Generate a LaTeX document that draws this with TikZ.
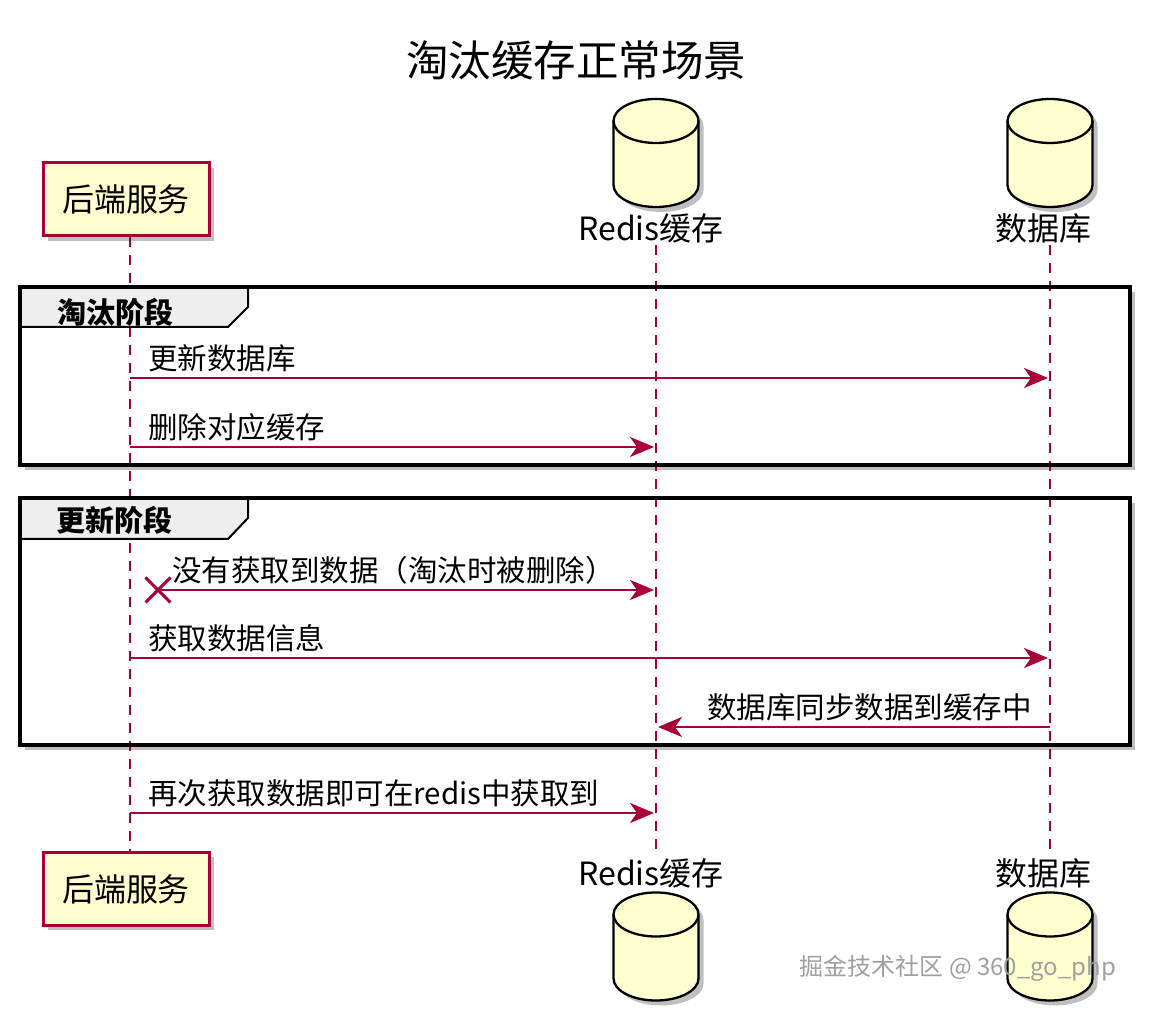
\documentclass[tikz,border=0pt]{standalone}
\usepackage{fontspec}
\setmainfont{Noto Sans CJK SC}
\usetikzlibrary{arrows.meta,shadows,shapes.misc}
\definecolor{partfill}{HTML}{FEFECE}
\definecolor{partline}{HTML}{A80036}
\definecolor{tabfill}{HTML}{EEEEEE}

\begin{document}
\begin{tikzpicture}[x=1pt, y=1pt,
  softshadow/.style={drop shadow={shadow xshift=5pt, shadow yshift=-5pt, fill=black, opacity=0.25}},
  svcbox/.style={rectangle, draw=partline, fill=partfill, line width=3pt, minimum width=166pt, minimum height=73pt, font=\fontsize{32}{38}\selectfont, softshadow},
  lbl/.style={font=\fontsize{32}{38}\selectfont, inner sep=2pt},
  lifeline/.style={draw=partline, line width=1.8pt, dash pattern=on 10pt off 8pt},
  msg/.style={draw=partline, line width=2.3pt, shorten >=2pt, -{Stealth[length=24pt, width=20pt, inset=7pt]}},
  msgtxt/.style={font=\fontsize{29.5}{35}\selectfont, anchor=base west, inner sep=0pt},
  lostx/.style={cross out, draw=partline, line width=3pt, minimum size=22pt, inner sep=0pt},
  grpframe/.style={draw=black, line width=3.5pt},
  grptab/.style={draw=black, fill=tabfill, line width=2pt},
  tabtxt/.style={font=\bfseries\fontsize{29}{34}\selectfont, anchor=west, inner sep=0pt},
  pics/dbcyl/.style={code={
    \path[fill=partfill, draw=black, line width=2.3pt, softshadow] (-42.5,32) -- (-42.5,-32) arc[start angle=180, end angle=360, x radius=42.5, y radius=22] -- (42.5,32) arc[start angle=0, end angle=180, x radius=42.5, y radius=22] -- cycle;
    \draw[line width=2.3pt] (-42.5,32) arc[start angle=180, end angle=360, x radius=42.5, y radius=22];
  }}
]

\useasboundingbox (0,0) rectangle (1152,1010);

\node[font=\fontsize{42.5}{50}\selectfont] (title) at (576,950) {淘汰缓存正常场景};

% participants
\node[svcbox] (svcTop) at (126,810.5) {后端服务};
\pic at (656,857) {dbcyl};
\node[lbl] (rdsTop) at (651,782) {Redis缓存};
\pic at (1050,857) {dbcyl};
\node[lbl] (dbTop) at (1043,782) {数据库};

\node[svcbox] (svcBot) at (126,121) {后端服务};
\node[lbl] (rdsBot) at (651,137) {Redis缓存};
\pic at (656,63.5) {dbcyl};
\node[lbl] (dbBot) at (1043,137) {数据库};
\pic at (1050,63.5) {dbcyl};

\coordinate (svc) at (130,0);
\coordinate (rds) at (656,0);
\coordinate (db) at (1050,0);

% group backgrounds
\path[fill=white, softshadow] (20,723) rectangle (1130,545);
\path[fill=white, softshadow] (20,512) rectangle (1130,265);

% lifelines
\draw[lifeline] (svc |- svcTop.south) -- (svc |- svcBot.north);
\draw[lifeline] (rds |- rdsTop.south) -- (rds |- rdsBot.north);
\draw[lifeline] (db |- dbTop.south) -- (db |- dbBot.north);

% groups
\draw[grptab] (20,723) -- (248,723) -- (248,703) -- (228,683) -- (20,683) -- cycle;
\node[tabtxt] (g1) at (57,698) {淘汰阶段};
\draw[grpframe] (20,723) rectangle (1130,545);

\draw[grptab] (20,512) -- (248,512) -- (248,492) -- (228,471) -- (20,471) -- cycle;
\node[tabtxt] (g2) at (56,490) {更新阶段};
\draw[grpframe] (20,512) rectangle (1130,265);

% messages
\coordinate (m1) at (0,632);
\draw[msg] (svc |- m1) -- (db |- m1);
\node[msgtxt] (m1t) at ([shift={(18,8)}]svc |- m1) {更新数据库};

\coordinate (m2) at (0,563);
\draw[msg] (svc |- m2) -- (rds |- m2);
\node[msgtxt] (m2t) at ([shift={(18,8)}]svc |- m2) {删除对应缓存};

\node[lostx] (m3x) at (158,420) {};
\draw[msg] (m3x.center) -- (rds |- m3x);
\node[msgtxt] (m3t) at ([shift={(14,8)}]m3x.center) {没有获取到数据（淘汰时被删除）};

\coordinate (m4) at (0,352);
\draw[msg] (svc |- m4) -- (db |- m4);
\node[msgtxt] (m4t) at ([shift={(18,8)}]svc |- m4) {获取数据信息};

\coordinate (m5) at (0,283);
\draw[msg] (db |- m5) -- (rds |- m5);
\node[msgtxt, anchor=base east] (m5t) at ([shift={(-18,8)}]db |- m5) {数据库同步数据到缓存中};

\coordinate (m6) at (0,197);
\draw[msg] (svc |- m6) -- (rds |- m6);
\node[msgtxt] (m6t) at ([shift={(18,8)}]svc |- m6) {再次获取数据即可在redis中获取到};

\node[font=\fontsize{24}{28}\selectfont, text=gray!75] (mark) at (958,42) {掘金技术社区 @ 360\_go\_php};

\end{tikzpicture}
\end{document}
